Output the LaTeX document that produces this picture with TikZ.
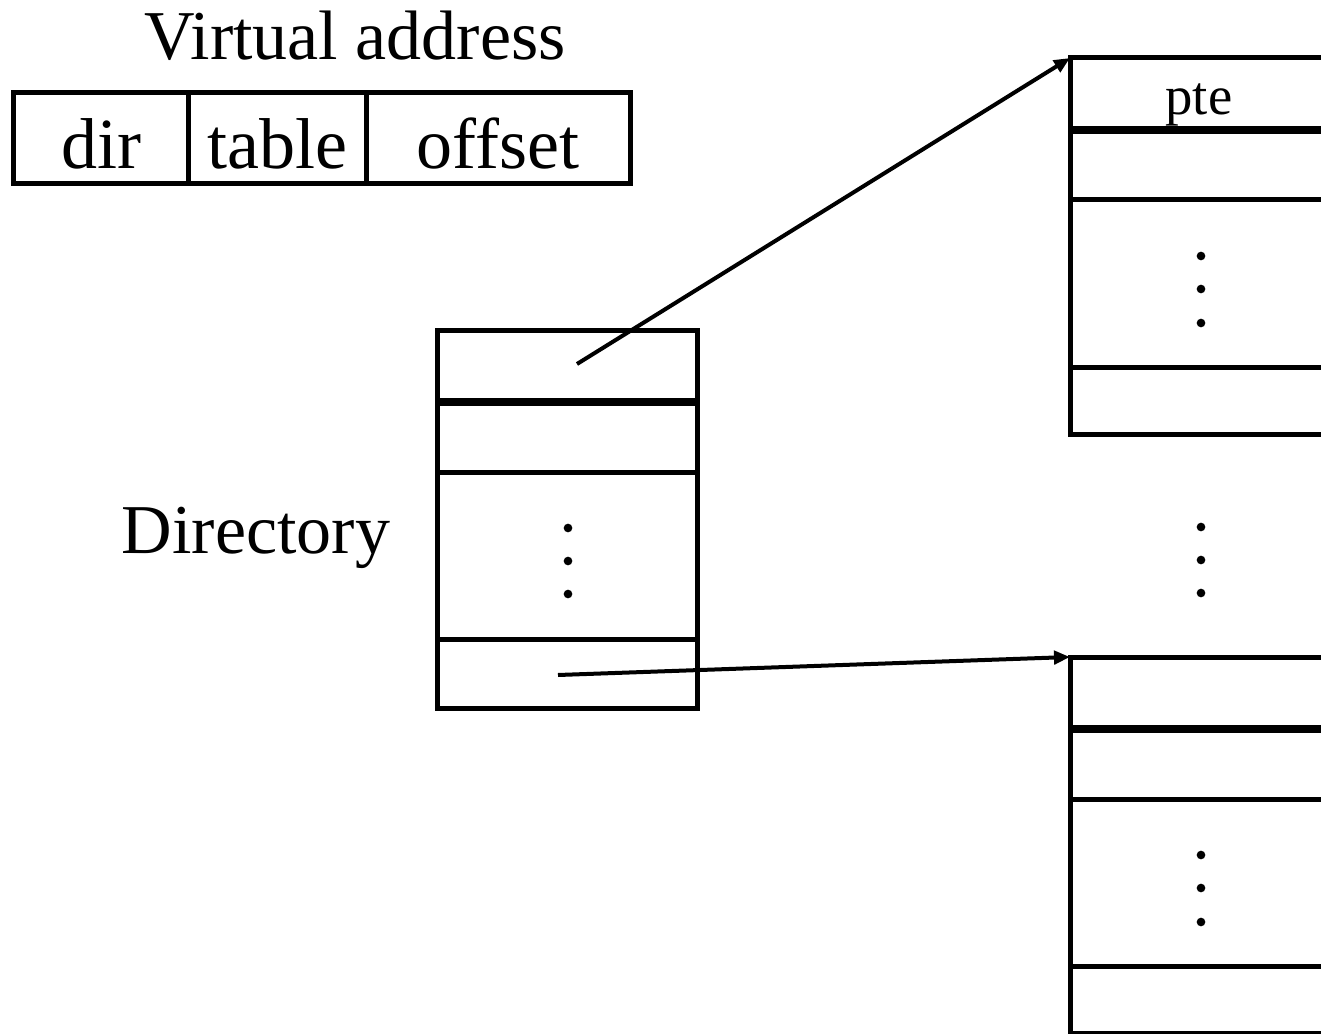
\documentclass[tikz,border=0pt]{standalone}
\usepackage{fontspec}
\setmainfont{Liberation Serif}
\usetikzlibrary{arrows.meta,calc}

\begin{document}
\begin{tikzpicture}[x=0.75pt, y=-0.75pt,
		Pfeil/.style={arrows = -{Triangle[length=12pt, width=10pt]}, line width=3pt},
		Rahmen/.style={line width=3.75pt},
		Dick/.style={line width=6pt},
		Punkt/.style={circle, fill, inner sep=0pt, minimum size=6.5pt},
		Gross/.style={font=\fontsize{52.5}{60}\selectfont, anchor=base},
		Feld/.style={font=\fontsize{54}{60}\selectfont, anchor=base},
		Klein/.style={font=\fontsize{41}{48}\selectfont, anchor=base}]
				\useasboundingbox (0,0) rectangle (1321,1034);
				\clip (0,0) rectangle (1321,1034);
				% virtual address
				\node[Gross] (va) at (355,60) {Virtual address};
				\draw[Rahmen] (13,93) rectangle (630,184);
				\draw[Rahmen] (188,93) -- (188,184);
				\draw[Rahmen] (366,93) -- (366,184);
				\node[Feld] (dir) at (101,169) {dir};
				\node[Feld] (tab) at (277,169) {table};
				\node[Feld] (off) at (498,169) {offset};
				% directory
				\node[Gross] (direc) at (256,553) {Directory};
				\draw[Rahmen] (437,331) rectangle (697,708);
				\draw[Dick] (437,402) -- (697,402);
				\draw[Rahmen] (437,472) -- (697,472);
				\draw[Rahmen] (437,639) -- (697,639);
				\foreach \y in {528,561,594} \node[Punkt] (dp\y) at (568,\y) {};
				% page tables
				\foreach \t/\o in {pt1/58, pt2/657} {
					\coordinate (\t) at (1070,\o);
					\draw[Rahmen] (\t) rectangle ++(290,376);
					\draw[Dick] ($(\t) + (0,72)$) -- ++(290,0);
					\draw[Rahmen] ($(\t) + (0,142)$) -- ++(290,0);
					\draw[Rahmen] ($(\t) + (0,309)$) -- ++(290,0);
					\foreach \d in {198,231,265} \node[Punkt] (\t-\d) at ($(\t) + (131,\d)$) {};
				}
				\node[Klein] (pte) at (1199,115) {pte};
				\foreach \y in {527,560,593} \node[Punkt] (mp\y) at (1201,\y) {};
				% pointers
				\coordinate (q1) at (577,364);
				\coordinate (q2) at (558,675);
				\draw[Pfeil] (q1) -- (pt1);
				\draw[Pfeil] (q2) -- (pt2);
			\end{tikzpicture}
\end{document}
